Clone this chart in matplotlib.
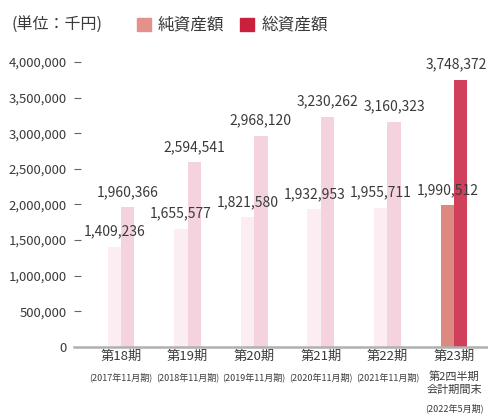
import matplotlib.pyplot as plt
from matplotlib.patches import Rectangle
from matplotlib.transforms import blended_transform_factory
import numpy as np

# --- データ ---
periods = ['第18期', '第19期', '第20期', '第21期', '第22期', '第23期']
sub_labels = ['(2017年11月期)', '(2018年11月期)', '(2019年11月期)',
              '(2020年11月期)', '(2021年11月期)', '(2022年5月期)']
last_note = '第2四半期\n会計期間末'
net_assets = [1409236, 1655577, 1821580, 1932953, 1955711, 1990512]
total_assets = [1960366, 2594541, 2968120, 3230262, 3160323, 3748372]
y_ticks = [0, 500000, 1000000, 1500000, 2000000, 2500000, 3000000, 3500000, 4000000]

# --- 色・フォント ---
NET_PAST = '#fbedf1'
TOTAL_PAST = '#f5d3de'
NET_LAST = '#dc897f'
TOTAL_LAST = '#d1405b'
NET_LEGEND = '#e3918a'
TOTAL_LEGEND = '#c9203e'
TEXT = '#3a3a3a'

plt.rcParams['font.family'] = ['Noto Sans CJK JP', 'DejaVu Sans']

fig = plt.figure(figsize=(4.89, 4.19), dpi=100)
ax = fig.add_axes([74 / 489, 1 - 347 / 419, 415 / 489, 313.5 / 419])

x = np.arange(len(periods))
w = 0.2
n = len(periods)
net_colors = [NET_PAST] * (n - 1) + [NET_LAST]
total_colors = [TOTAL_PAST] * (n - 1) + [TOTAL_LAST]

ax.bar(x - w / 2, net_assets, width=w, color=net_colors, zorder=2)
ax.bar(x + w / 2, total_assets, width=w, color=total_colors, zorder=2)

# 数値ラベル（最後の総資産額は右端に収まるよう少し左へ）
for i in range(n):
    ax.annotate(f'{net_assets[i]:,}', (x[i] - w / 2, net_assets[i]),
                xytext=(0, 6), textcoords='offset points', ha='center',
                va='bottom', fontsize=10, color=TEXT)
    dx = -3 if i == n - 1 else 0
    ax.annotate(f'{total_assets[i]:,}', (x[i] + w / 2, total_assets[i]),
                xytext=(dx, 6), textcoords='offset points', ha='center',
                va='bottom', fontsize=10, color=TEXT)

ax.set_xlim(-0.706, 5.526)
ax.set_ylim(0, 4400000)

ax.set_yticks(y_ticks)
ax.set_yticklabels([f'{v:,}' for v in y_ticks], fontsize=9.5, color=TEXT)
ax.tick_params(axis='y', direction='in', length=5, width=0.8,
               color='#666666', pad=5)

ax.set_xticks(x)
ax.set_xticklabels(periods, fontsize=9.5, color=TEXT)
ax.tick_params(axis='x', length=0, pad=2)

# 期間の補足ラベル
trans = blended_transform_factory(ax.transData, ax.transAxes)
for i, s in enumerate(sub_labels):
    y_pos = -0.096 if i < n - 1 else -0.195
    ax.text(x[i], y_pos, s, transform=trans, ha='center', va='center',
            fontsize=6.5, color=TEXT)
ax.text(x[-1], -0.078, last_note, transform=trans, ha='center', va='top',
        fontsize=8, color=TEXT, linespacing=1.3)

for side in ['top', 'right', 'left']:
    ax.spines[side].set_visible(False)
ax.spines['bottom'].set_color('#b0b0b0')
ax.spines['bottom'].set_linewidth(1.8)

# 凡例
fig.text(12 / 489, 1 - 25 / 419, '(単位：千円)', fontsize=11.5, color=TEXT,
         va='center', ha='left')
fig.patches.append(Rectangle((137 / 489, 1 - 31 / 419), 14 / 489, 13 / 419,
                             color=NET_LEGEND, transform=fig.transFigure))
fig.text(158 / 489, 1 - 25 / 419, '純資産額', fontsize=12, color=TEXT,
         va='center', ha='left')
fig.patches.append(Rectangle((240 / 489, 1 - 31 / 419), 14 / 489, 13 / 419,
                             color=TOTAL_LEGEND, transform=fig.transFigure))
fig.text(262 / 489, 1 - 25 / 419, '総資産額', fontsize=12, color=TEXT,
         va='center', ha='left')

fig.savefig('out.png', dpi=100)
